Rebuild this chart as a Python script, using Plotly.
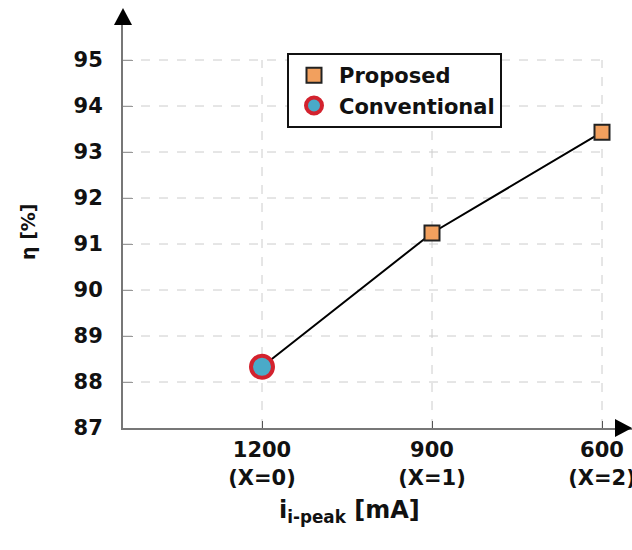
import plotly.graph_objects as go

categories = ["1200<br>(X=0)", "900<br>(X=1)", "600<br>(X=2)"]
x_idx = [0, 1, 2]
line_vals = [88.33, 91.24, 93.43]
proposed_x = [1, 2]
proposed_y = [91.24, 93.43]
conv_x = [0]
conv_y = [88.33]
y_ticks = [87, 88, 89, 90, 91, 92, 93, 94, 95]

L, T, W, H = 123, 20, 509, 408
x0, x1 = -139 / 170, 2 + 30 / 170
y0, y1 = 87, 87 + 408 / 46

font = "DejaVu Sans"
fig = go.Figure()
fig.add_trace(go.Scatter(x=x_idx, y=line_vals, mode="lines",
                         line=dict(color="black", width=2), showlegend=False))
fig.add_trace(go.Scatter(x=proposed_x, y=proposed_y, mode="markers", name="Proposed",
                         marker=dict(symbol="square", size=15, color="#F2A05E",
                                     line=dict(color="#222", width=2))))
fig.add_trace(go.Scatter(x=conv_x, y=conv_y, mode="markers", name="Conventional",
                         marker=dict(symbol="circle", size=22, color="#4AAAC8",
                                     line=dict(color="#D3222E", width=4))))

shapes = []
gx_end = (608 - 262) / 170
for yv in y_ticks[1:]:
    shapes.append(dict(type="line", xref="x", yref="y", x0=x0, x1=gx_end, y0=yv, y1=yv,
                       line=dict(color="#CCCCCC", width=1, dash="dash"), layer="below"))
for xv in x_idx:
    shapes.append(dict(type="line", xref="x", yref="y", x0=xv, x1=xv, y0=87, y1=95,
                       line=dict(color="#CCCCCC", width=1, dash="dash"), layer="below"))

def px(xp, yp):
    return (xp - L) / W, (T + H - yp) / H

# arrow heads
a, b = px(123, 8), px(114, 25)
c = px(132, 25)
shapes.append(dict(type="path", xref="paper", yref="paper",
                   path=f"M {a[0]} {a[1]} L {b[0]} {b[1]} L {c[0]} {c[1]} Z",
                   fillcolor="black", line=dict(color="black", width=0)))
a, b, c = px(632, 428), px(615, 419), px(615, 437)
shapes.append(dict(type="path", xref="paper", yref="paper",
                   path=f"M {a[0]} {a[1]} L {b[0]} {b[1]} L {c[0]} {c[1]} Z",
                   fillcolor="black", line=dict(color="black", width=0)))

annotations = [
    dict(text="<b>i<sub>i-peak</sub> [mA]</b>", xref="paper", yref="paper",
         x=px(349, 0)[0], y=px(0, 511)[1], xanchor="center", yanchor="middle",
         showarrow=False, font=dict(family=font, size=24, color="#111")),
    dict(text="<b>η [%]</b>", xref="paper", yref="paper", textangle=-90,
         x=px(28, 0)[0], y=px(0, 232)[1], xanchor="center", yanchor="middle",
         showarrow=False, font=dict(family=font, size=19, color="#111")),
]

fig.update_layout(
    width=632, height=550, margin=dict(l=L, r=0, t=T, b=550 - T - H),
    plot_bgcolor="white", paper_bgcolor="white",
    shapes=shapes, annotations=annotations,
    legend=dict(x=px(287, 0)[0], y=px(0, 53)[1], xanchor="left", yanchor="top",
                bordercolor="#111", borderwidth=2, bgcolor="white",
                font=dict(family=font, size=21, color="#111", weight="bold"),
                itemwidth=40, tracegroupgap=0),
    xaxis=dict(range=[x0, x1], tickvals=x_idx, ticktext=categories, showgrid=False,
               zeroline=False, showline=True, linecolor="#777", linewidth=2,
               ticks="inside", ticklen=7, tickcolor="#555", ticklabelstandoff=2,
               ticklabeloverflow="allow", automargin=False,
               tickfont=dict(family=font, size=21, color="#111", weight="bold")),
    yaxis=dict(range=[y0, y1], tickvals=y_ticks, showgrid=False, zeroline=False,
               showline=True, linecolor="#777", linewidth=2, automargin=False,
               ticks="inside", ticklen=10, tickcolor="#999",
               ticklabelstandoff=14,
               tickfont=dict(family=font, size=21, color="#111", weight="bold")),
)
fig.write_html("out.html")
